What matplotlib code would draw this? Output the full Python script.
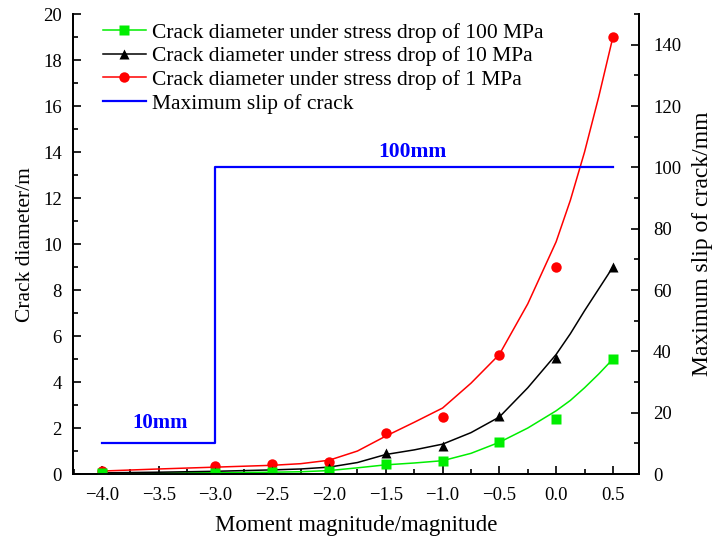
import numpy as np
import matplotlib
matplotlib.use("Agg")
import matplotlib.pyplot as plt
from matplotlib.lines import Line2D
from matplotlib.ticker import MultipleLocator

plt.rcParams['font.family'] = ['Liberation Serif', 'DejaVu Serif']

# measured points
magnitude = [-4.0, -3.0, -2.5, -2.0, -1.5, -1.0, -0.5, 0.0, 0.5]
d_100mpa = [0.03, 0.05, 0.08, 0.15, 0.43, 0.56, 1.39, 2.39, 5.0]
d_10mpa = [0.05, 0.10, 0.15, 0.25, 0.91, 1.2, 2.52, 5.05, 9.0]
d_1mpa = [0.13, 0.35, 0.43, 0.52, 1.78, 2.5, 5.17, 9.0, 19.0]

# fitted curves
fit_x = [-4.0, -3.5, -3.0, -2.5, -2.25, -2.0, -1.75, -1.5, -1.25, -1.0,
         -0.75, -0.5, -0.25, 0.0, 0.125, 0.25, 0.375, 0.5]
fit_100mpa = [0.03, 0.04, 0.06, 0.08, 0.1, 0.15, 0.27, 0.4, 0.48, 0.58,
              0.9, 1.38, 2.0, 2.75, 3.2, 3.75, 4.35, 5.0]
fit_10mpa = [0.05, 0.08, 0.12, 0.18, 0.22, 0.3, 0.5, 0.85, 1.05, 1.3,
             1.8, 2.48, 3.75, 5.2, 6.1, 7.1, 8.05, 9.0]
fit_1mpa = [0.13, 0.22, 0.3, 0.38, 0.45, 0.6, 1.0, 1.65, 2.25, 2.87,
            3.95, 5.2, 7.4, 10.1, 11.9, 14.0, 16.4, 19.0]

# maximum slip step (mm)
slip_x = [-4.0, -3.0, -3.0, 0.5]
slip_mm = [10, 10, 100, 100]

fig = plt.figure(figsize=(7.12, 5.43), dpi=100)
ax = fig.add_axes([0.1025, 0.127, 0.795, 0.847])
ax2 = ax.twinx()

ax.plot(fit_x, fit_100mpa, color='#00ee00', lw=1.1, zorder=3)
ax.plot(fit_x, fit_10mpa, color='black', lw=1.1, zorder=3)
ax.plot(fit_x, fit_1mpa, color='red', lw=1.1, zorder=3)
ax.plot(magnitude, d_1mpa, 'o', color='red', ms=7.5, mec='none', zorder=4)
ax.plot(magnitude, d_10mpa, '^', color='black', ms=7.5, mec='none', zorder=4)
ax.plot(magnitude, d_100mpa, 's', color='#00ee00', ms=7, mec='none', zorder=5)

ax2.plot(slip_x, slip_mm, color='blue', lw=1.6)
ax2.text(-3.49, 16.5, '10mm', color='blue', fontsize=15, fontweight='bold',
         ha='center', va='center')
ax2.text(-1.27, 105, '100mm', color='blue', fontsize=15.5, fontweight='bold',
         ha='center', va='center')

ax.set_xlim(-4.255, 0.73)
ax.set_ylim(0, 20)
ax2.set_ylim(0, 150)

ax.xaxis.set_major_locator(MultipleLocator(0.5))
ax.xaxis.set_minor_locator(MultipleLocator(0.25))
ax.yaxis.set_major_locator(MultipleLocator(2))
ax.yaxis.set_minor_locator(MultipleLocator(1))
ax2.yaxis.set_major_locator(MultipleLocator(20))
ax2.yaxis.set_minor_locator(MultipleLocator(10))

for a in (ax, ax2):
    a.spines['top'].set_visible(False)
    for s in a.spines.values():
        s.set_linewidth(1.3)
    a.tick_params(which='both', direction='in', width=1.2, labelsize=13.5)
    a.tick_params(which='major', length=6)
    a.tick_params(which='minor', length=3.5)
ax.tick_params(axis='x', pad=9)
ax.tick_params(axis='y', pad=8)
ax2.tick_params(axis='y', pad=10)

ax.set_xlabel('Moment magnitude/magnitude', fontsize=16.5, labelpad=8)
ax.set_ylabel('Crack diameter/m', fontsize=15.5, labelpad=6)
ax2.set_ylabel('Maximum slip of crack/mm', fontsize=17, labelpad=8)

handles = [
    Line2D([], [], color='#00ee00', marker='s', ms=7, mec='none', lw=1.1),
    Line2D([], [], color='black', marker='^', ms=7.5, mec='none', lw=1.1),
    Line2D([], [], color='red', marker='o', ms=7.5, mec='none', lw=1.1),
    Line2D([], [], color='blue', lw=1.6),
]
labels = ['Crack diameter under stress drop of 100 MPa',
          'Crack diameter under stress drop of 10 MPa',
          'Crack diameter under stress drop of 1 MPa',
          'Maximum slip of crack']
ax2.legend(handles, labels, loc='upper left', bbox_to_anchor=(0.03, 1.01),
           frameon=False, fontsize=15.5, handlelength=2.0, handletextpad=0.3,
           labelspacing=0.17, borderaxespad=0.2)

fig.savefig('out.png', dpi=100)
